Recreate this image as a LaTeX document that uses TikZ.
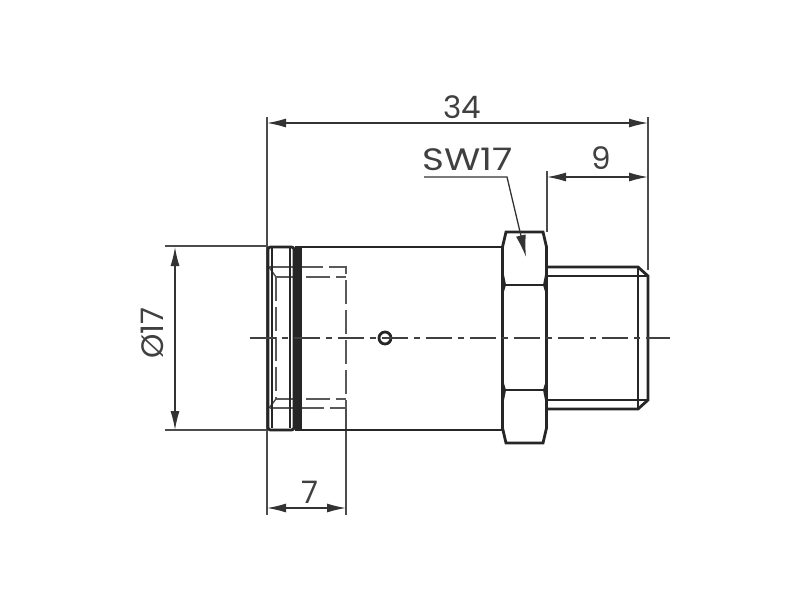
\documentclass[tikz,border=0pt]{standalone}
\usepackage{fontspec}
\setmainfont{Poppins}
\usetikzlibrary{arrows.meta}
\tikzset{
  thick line/.style={line width=2.8pt, black!85},
  thin line/.style={line width=1.4pt, black!70},
  hidden line/.style={line width=1.4pt, black!65, dash pattern=on 24pt off 6pt},
  axis line/.style={line width=1.8pt, black!75, dash pattern=on 26pt off 6pt on 6pt off 6pt},
  dim line/.style={line width=1.3pt, black!80, {Latex[length=19pt,width=9pt]}-{Latex[length=19pt,width=9pt]}},
  dim text/.style={font=\fontsize{31}{31}\selectfont, text=black!75, inner sep=0pt}
}
\begin{document}
\begin{tikzpicture}[x=1pt, y=-1pt]
   \useasboundingbox (0, 0) rectangle (800, 600);

   \coordinate (a34) at (267, 123);
   \coordinate (b34) at (648, 123);
   \coordinate (a9) at (547, 177);
   \coordinate (b9) at (648, 177);
   \coordinate (a7) at (267, 508);
   \coordinate (b7) at (346, 508);
   \coordinate (a17) at (175, 247);
   \coordinate (b17) at (175, 430);
   \coordinate (leadstart) at (424, 177);
   \coordinate (leadbend) at (507, 177);
   \coordinate (leadtip) at (526, 257);

   % extension lines
   \draw[thin line] (267, 117) -- (267, 515);
   \draw[thin line] (648, 117) -- (648, 270);
   \draw[thin line] (547, 171) -- (547, 232);
   \draw[thin line] (346, 409) -- (346, 515);
   \draw[thin line] (165, 246) -- (267, 246);
   \draw[thin line] (165, 430) -- (267, 430);

   % hidden bore
   \draw[hidden line] (269, 267) -- (346, 267) -- (346, 408) -- (269, 408);
   \draw[hidden line] (276, 277) -- (346, 277);
   \draw[hidden line] (276, 399) -- (346, 399);
   \draw[hidden line] (276, 277) -- (276, 399);
   \draw[thin line] (269, 267) -- (276, 277);
   \draw[thin line] (269, 408) -- (276, 399);

   % flange
   \draw[thick line, rounded corners=2.5pt] (268, 247) rectangle (294, 430);
   \draw[thick line] (272, 248) -- (272, 428);
   \draw[thick line] (290, 248) -- (290, 428);
   \fill[black!85] (295, 246) rectangle (301.5, 431);

   % body
   \draw[thick line] (301, 247) -- (503, 247);
   \draw[thick line] (301, 430) -- (503, 430);

   % hexagon
   \draw[thick line] (506, 232) -- (543, 232) -- (546.5, 247) -- (546.5, 428) -- (543, 443) -- (506, 443) -- (502.5, 428) -- (502.5, 247) -- cycle;
   \draw[thick line] (505, 285) -- (544, 285);
   \draw[thick line] (505, 390) -- (544, 390);
   \fill[black!85] (502, 265) -- (506, 285) -- (502, 298) -- cycle;
   \fill[black!85] (547, 265) -- (543, 285) -- (547, 298) -- cycle;
   \fill[black!85] (502, 377) -- (506, 390) -- (502, 410) -- cycle;
   \fill[black!85] (547, 377) -- (543, 390) -- (547, 410) -- cycle;

   % thread
   \draw[thick line] (547, 267) -- (638, 267) -- (648, 276) -- (648, 400) -- (638, 409) -- (547, 409);
   \draw[thick line] (547, 276) -- (648, 276);
   \draw[thick line] (547, 400) -- (648, 400);
   \draw[thick line] (638, 267) -- (638, 409);

   % vent hole and axis
   \draw[thick line] (385, 338) circle (6pt);
   \draw[axis line] (250, 338) -- (670, 338);

   % dimensions
   \draw[dim line] (a34) -- (b34);
   \draw[dim line] (a9) -- (b9);
   \draw[dim line] (a7) -- (b7);
   \draw[dim line] (a17) -- (b17);
   \draw[line width=1.3pt, black!80, -{Latex[length=22pt,width=10pt]}] (leadstart) -- (leadbend) -- (leadtip);

   \node[dim text] (label34) at (462, 107) {34};
   \node[dim text, xscale=1.2] (labelsw) at (468, 159) {SW17};
   \node[dim text] (label9) at (601, 158) {9};
   \node[dim text] (label7) at (310, 492) {7};
   \node[dim text, rotate=90] (label17) at (152, 333) {Ø17};
\end{tikzpicture}
\end{document}
